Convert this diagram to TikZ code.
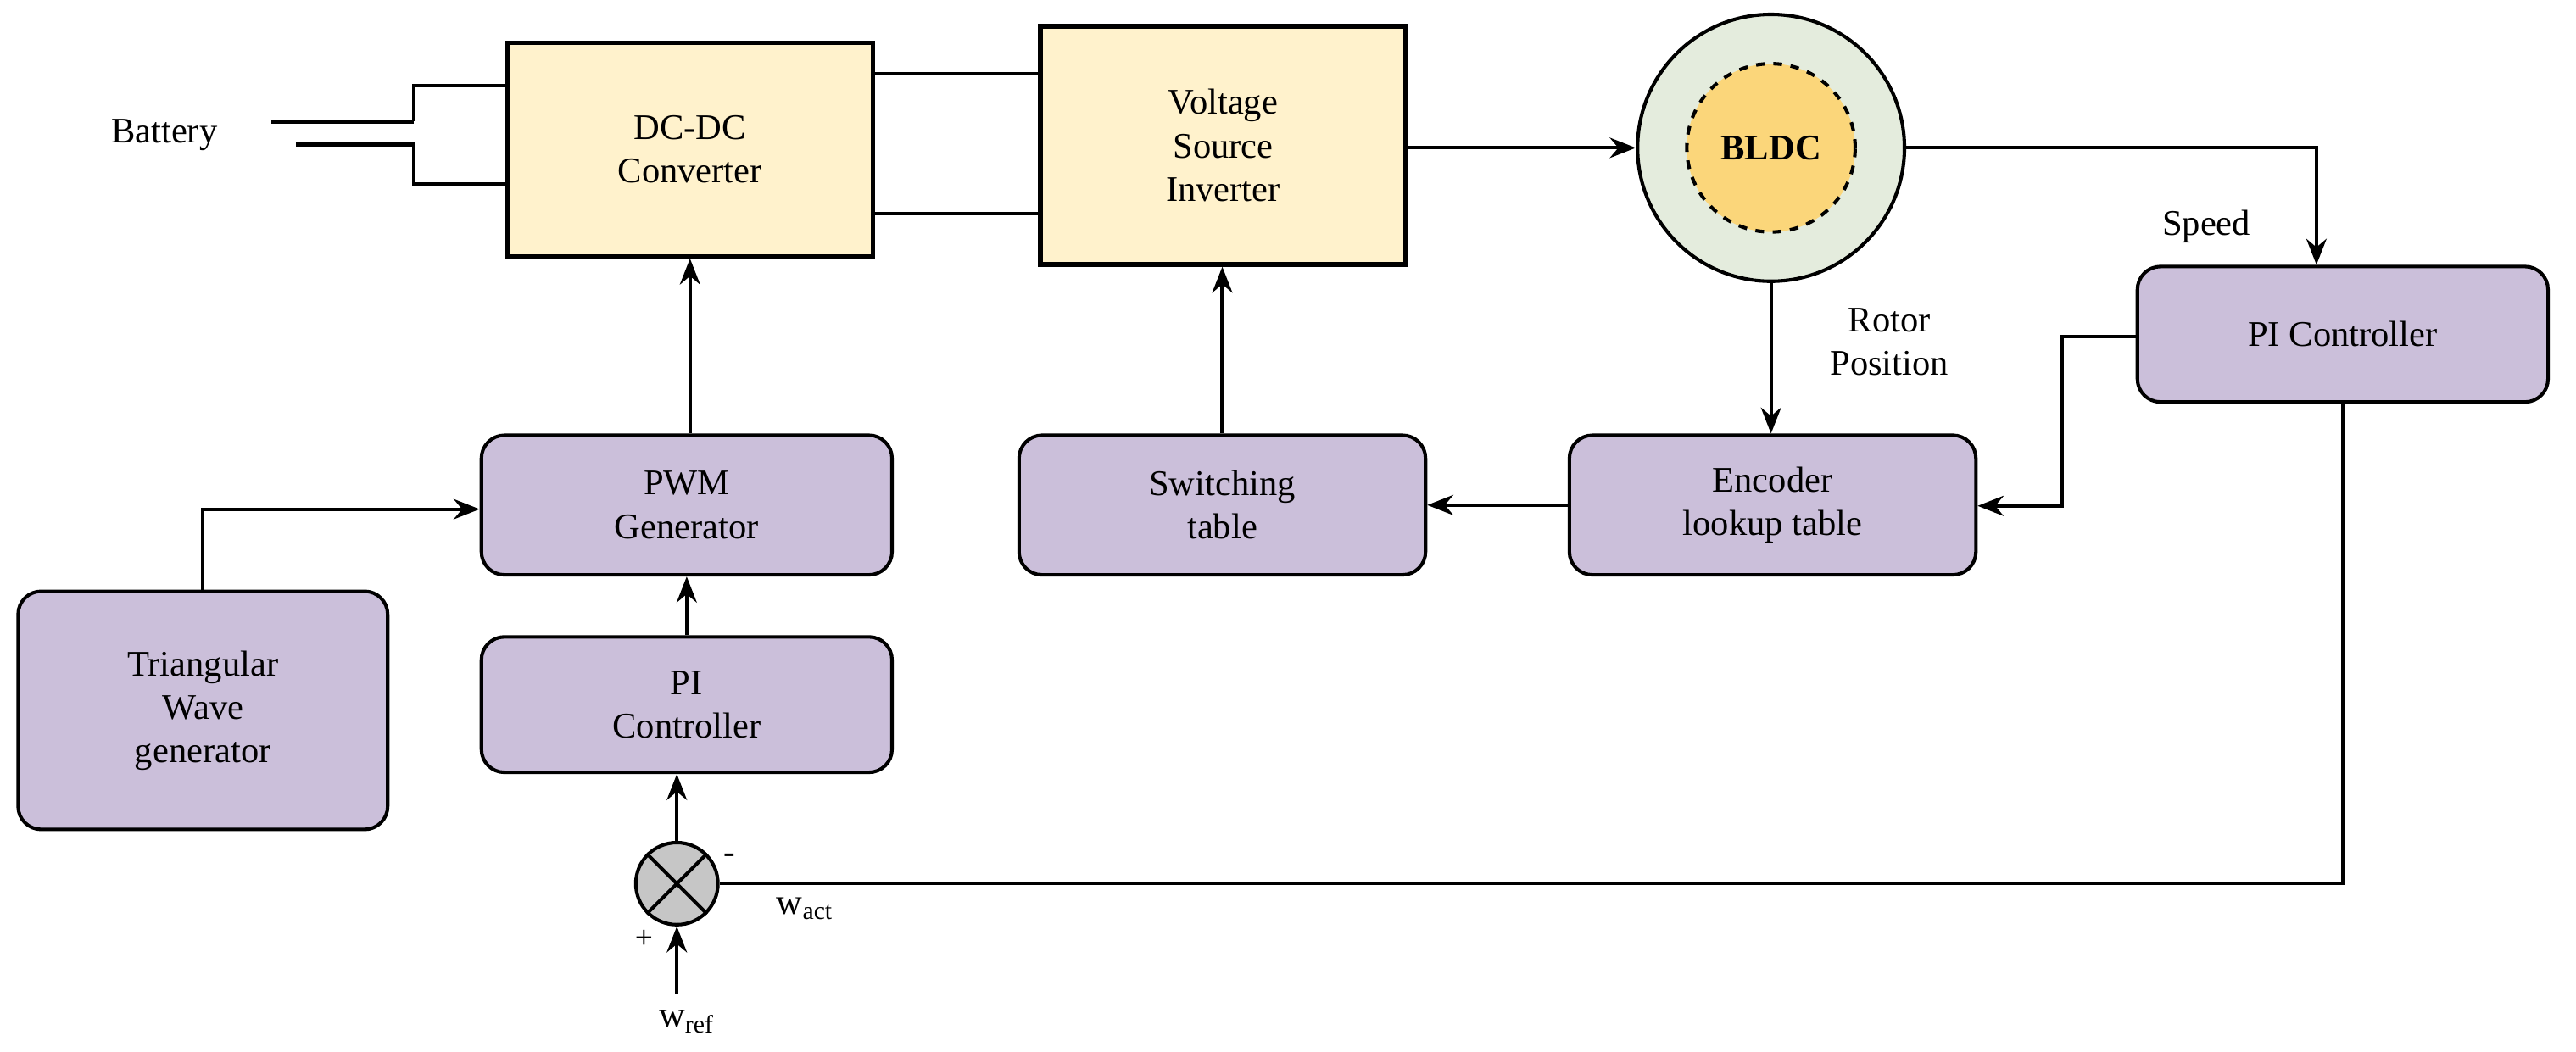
\documentclass[tikz,border=0pt]{standalone}
\usepackage{fontspec}
\setmainfont{Liberation Serif}
\usetikzlibrary{arrows.meta}
\definecolor{boxy}{HTML}{FFF2CC}
\definecolor{boxp}{HTML}{CBBFDA}
\definecolor{motg}{HTML}{E4ECDD}
\definecolor{moto}{HTML}{FBD67A}
\begin{document}
\begin{tikzpicture}[x=0.02cm,y=-0.02cm,
  txt/.style={font=\fontsize{12.5}{15}\selectfont,align=center},
  yb/.style={draw,line width=1.6pt,fill=boxy,txt},
  pb/.style={draw,line width=1.2pt,fill=boxp,rounded corners=8pt,txt},
  ln/.style={line width=1.2pt},
  ar/.style={line width=1.2pt,-{Stealth[length=9pt,width=7pt]}}]
\useasboundingbox (0,0) rectangle (1568,640);
\newcommand{\bx}[6]{\node[#1,minimum width=#4*0.02cm-1.2pt,minimum height=#5*0.02cm-1.2pt] (#6) at ({(#2)},{(#3)}) {#6txt};}
% boxes
\node[yb,minimum width=4.45cm,minimum height=2.6cm] (dc) at (420,91) {DC-DC\\Converter};
\node[yb,minimum width=4.45cm,minimum height=2.9cm] (vsi) at (744.5,88.5) {Voltage\\Source\\Inverter};
\node[pb,minimum width=5cm,minimum height=1.65cm] (pir) at (1426,203.5) {PI Controller};
\node[pb,minimum width=4.95cm,minimum height=1.7cm] (enc) at (1079,307.5) {Encoder\\lookup table};
\node[pb,minimum width=4.95cm,minimum height=1.7cm] (sw) at (744,307.5) {Switching\\table};
\node[pb,minimum width=5cm,minimum height=1.7cm] (pwm) at (418,307.5) {PWM\\Generator};
\node[pb,minimum width=4.5cm,minimum height=2.9cm] (tri) at (123.5,432.5) {Triangular\\Wave\\generator};
\node[pb,minimum width=5cm,minimum height=1.65cm] (pil) at (418,429) {PI\\Controller};
% motor
\node[circle,draw,line width=1.2pt,fill=motg,minimum size=3.25cm] (bldc) at (1078,90) {};
\node[circle,draw,dashed,line width=1.2pt,fill=moto,minimum size=2.05cm,font=\fontsize{12.5}{15}\selectfont\bfseries] at (1078,90) {BLDC};
% summer
\node[circle,draw,line width=1.2pt,fill=gray!45,minimum size=1cm] (sum) at (412,538) {};
\draw[line width=1.2pt] (sum.north west)--(sum.south east) (sum.north east)--(sum.south west);
% battery
\node[txt] (bat) at (100,82) {Battery};
\coordinate (b1) at (252,52); \coordinate (b2) at (252,112);
\draw[line width=1.6pt] (165,74)--(252,74) (180,88)--(235,88);
\draw[ln] (252,74)--(b1)--(dc.west|-b1) (235,88)--(252,88)--(b2)--(dc.west|-b2);
% dc to vsi
\draw[ln] (dc.east|-0,45)--(vsi.west|-0,45) (dc.east|-0,130)--(vsi.west|-0,130);
% arrows
\draw[ar] (vsi.east|-0,90)--(bldc.west);
\draw[ar] (bldc.east)--(1410,90)--(pir.north-|1410,0);
\node[txt] at (1343,138) {Speed};
\draw[ar] (bldc.south)--(enc.north-|bldc.south);
\node[txt] at (1150,208) {Rotor\\Position};
\draw[ar] (pir.west|-0,205)--(1255,205)--(1255,308)--(enc.east|-0,308);
\draw[ar] (enc.west)--(sw.east);
\draw[ar] (sw.north)--(vsi.south-|sw.north);
\draw[ar] (pwm.north-|420,0)--(dc.south-|420,0);
\draw[ar] (tri.north)--(tri.north|-0,310)--(pwm.west|-0,310);
\draw[ar] (pil.north)--(pwm.south);
\draw[ar] (sum.north)--(pil.south-|sum.north);
\draw[ln] (pir.south)--(pir.south|-sum.east)--(sum.east);
\coordinate (wr) at (412,605);
\draw[ar] (wr)--(sum.south);
\node[font=\fontsize{12}{14}\selectfont] at (444,523) {-};
\node[font=\fontsize{11}{13}\selectfont] at (392,572) {+};
\node[txt] at (490,553) {w\textsubscript{act}};
\node[txt] at (418,622) {w\textsubscript{ref}};
\end{tikzpicture}
\end{document}
